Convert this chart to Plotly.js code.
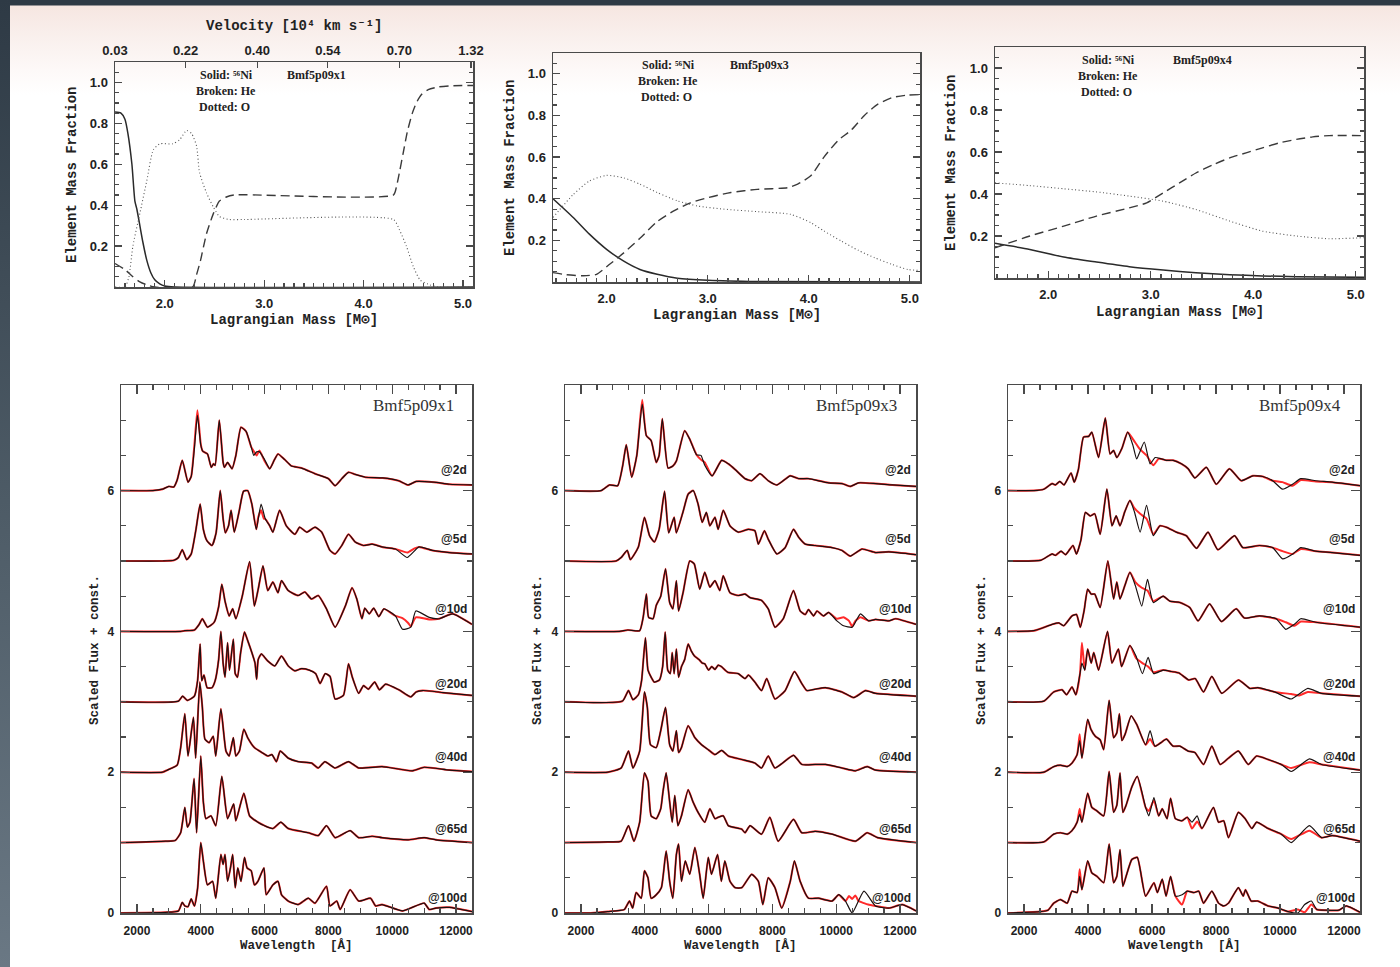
<!DOCTYPE html>
<html><head><meta charset="utf-8">
<script src="https://cdn.plot.ly/plotly-3.0.1.min.js"></script>
<style>
html,body{margin:0;padding:0;background:#fff;}
#wrap{position:relative;width:1400px;height:967px;overflow:hidden;
background:linear-gradient(to bottom,#2e3a45 0px,#2e3a45 5px,#f6e6e1 6px,#f9efec 35px,#fdf9f8 70px,#ffffff 95px);}
#band{position:absolute;left:0;top:0;width:10px;height:967px;background:linear-gradient(to bottom,#2e3a45,#4f5d68 55%,#6a7884);}
#chart{position:absolute;left:0;top:0;width:1400px;height:967px;}
</style></head>
<body><div id="wrap"><div id="band"></div><div id="chart"></div></div>
<script>
// ---------------- DATA: element mass fractions (top row) ----------------
const velocityTickText = ['0.03','0.22','0.40','0.54','0.70','1.32'];
const velocityTickMass = [1.5, 2.21, 2.93, 3.64, 4.36, 5.08];
const massTickVals = [2, 3, 4, 5];
const massTickText = ['2.0','3.0','4.0','5.0'];
const fracTickVals = [0.2, 0.4, 0.6, 0.8, 1.0];
const fracTickText = ['0.2','0.4','0.6','0.8','1.0'];
const waveTickVals = [2000, 4000, 6000, 8000, 10000, 12000];
const waveTickText = ['2000','4000','6000','8000','10000','12000'];
const fluxTickVals = [0, 2, 4, 6];

const ni_x1 = [[1.5,0.855],[1.56,0.85],[1.6,0.82],[1.63,0.75],[1.67,0.6],[1.7,0.42],[1.72,0.38],[1.75,0.3],[1.78,0.22],[1.82,0.13],[1.86,0.07],[1.9,0.035],[1.95,0.015],[2.0,0.005],[2.1,0],[5.1,0]];
const he_x1 = [[1.5,0.115],[1.6,0.085],[1.68,0.05],[1.75,0.025],[1.82,0.01],[1.9,0],[2.28,0],[2.32,0.06],[2.36,0.13],[2.42,0.26],[2.49,0.36],[2.55,0.42],[2.62,0.44],[2.7,0.45],[4.3,0.45],[4.33,0.49],[4.36,0.56],[4.4,0.66],[4.44,0.76],[4.49,0.85],[4.53,0.9],[4.58,0.94],[4.65,0.965],[4.75,0.978],[4.9,0.984],[5.1,0.985]];
const o_x1  = [[1.5,0],[1.6,0],[1.64,0.05],[1.68,0.2],[1.75,0.36],[1.82,0.52],[1.885,0.67],[1.95,0.7],[2.08,0.7],[2.15,0.72],[2.22,0.765],[2.27,0.75],[2.32,0.69],[2.35,0.56],[2.42,0.46],[2.49,0.39],[2.55,0.345],[2.65,0.33],[2.8,0.33],[4.3,0.33],[4.36,0.28],[4.43,0.2],[4.5,0.1],[4.57,0.033],[4.67,0.01],[4.75,0],[5.1,0]];

const ni_x3 = [[1.47,0.4],[1.67,0.31],[1.83,0.23],[2.0,0.157],[2.17,0.1],[2.33,0.06],[2.5,0.037],[2.7,0.018],[3.0,0.008],[3.5,0.002],[5.1,0]];
const he_x3 = [[1.47,0.045],[1.6,0.035],[1.77,0.03],[1.9,0.037],[2.03,0.085],[2.17,0.14],[2.33,0.21],[2.5,0.29],[2.66,0.34],[2.83,0.38],[3.0,0.405],[3.23,0.43],[3.49,0.445],[3.79,0.453],[3.89,0.47],[4.02,0.51],[4.15,0.6],[4.29,0.68],[4.42,0.73],[4.55,0.8],[4.68,0.853],[4.82,0.885],[4.98,0.898],[5.1,0.9]];
const o_x3  = [[1.47,0.31],[1.67,0.42],[1.83,0.485],[2.0,0.512],[2.17,0.5],[2.33,0.47],[2.5,0.43],[2.7,0.39],[2.9,0.365],[3.16,0.35],[3.49,0.338],[3.82,0.325],[4.02,0.285],[4.15,0.245],[4.32,0.197],[4.49,0.152],[4.65,0.117],[4.82,0.085],[4.98,0.06],[5.1,0.056]];

const ni_x4 = [[1.48,0.165],[1.82,0.136],[2.15,0.1],[2.47,0.076],[2.79,0.054],[3.12,0.038],[3.44,0.025],[3.77,0.016],[4.09,0.01],[4.42,0.006],[5.08,0.003]];
const he_x4 = [[1.48,0.144],[1.82,0.2],[2.15,0.247],[2.47,0.295],[2.79,0.334],[2.96,0.358],[3.12,0.405],[3.28,0.453],[3.44,0.5],[3.61,0.54],[3.77,0.572],[3.93,0.596],[4.09,0.62],[4.25,0.643],[4.42,0.66],[4.58,0.672],[4.74,0.678],[5.08,0.678]];
const o_x4  = [[1.48,0.453],[1.82,0.44],[2.15,0.425],[2.47,0.41],[2.79,0.39],[3.12,0.366],[3.44,0.326],[3.77,0.271],[4.09,0.223],[4.42,0.2],[4.74,0.187],[5.08,0.192]];

// ---------------- DATA: spectra (bottom row), [wavelength, scaled flux + const] ----------------
const models = ['Bmf5p09x1','Bmf5p09x3','Bmf5p09x4'];
const epochs = ['@2d','@5d','@10d','@20d','@40d','@65d','@100d'];

const x1_2d = [[1500,6.0],[2500,6.0],[2800,6.02],[3000,6.06],[3150,6.05],[3260,6.15],[3420,6.43],[3600,6.12],[3700,6.2],[3800,6.6],[3895,7.07],[4000,6.65],[4060,6.56],[4210,6.52],[4330,6.33],[4400,6.38],[4450,6.36],[4580,7.0],[4700,6.4],[4740,6.33],[4840,6.4],[4980,6.31],[5100,6.5],[5260,6.9],[5420,6.84],[5580,6.62],[5660,6.5],[5750,6.55],[5840,6.55],[6000,6.44],[6160,6.31],[6300,6.43],[6420,6.52],[6630,6.44],[6840,6.35],[7160,6.32],[7580,6.24],[8000,6.17],[8210,6.07],[8420,6.17],[8630,6.26],[8840,6.23],[9160,6.19],[9700,6.18],[10200,6.14],[10500,6.08],[10750,6.13],[11300,6.12],[11800,6.09],[12500,6.08]];
const x1_2d_red = [[[3800,6.65],[3895,7.14],[4000,6.66]],[[5580,6.62],[5660,6.56],[5750,6.5],[5840,6.57],[6000,6.42]]];
const x1_5d = [[1500,5.0],[2800,5.0],[3160,5.01],[3300,5.05],[3420,5.16],[3560,5.02],[3700,5.1],[3850,5.45],[3980,5.81],[4080,5.45],[4190,5.29],[4350,5.22],[4480,5.4],[4610,6.0],[4700,5.6],[4770,5.4],[4870,5.5],[4950,5.72],[5050,5.41],[5200,5.7],[5340,5.99],[5470,6.0],[5600,5.81],[5740,5.45],[5890,5.81],[6020,5.6],[6160,5.5],[6260,5.41],[6470,5.72],[6680,5.5],[6950,5.38],[7100,5.48],[7320,5.41],[7580,5.48],[7790,5.41],[8050,5.15],[8210,5.1],[8420,5.22],[8630,5.38],[8840,5.27],[9100,5.22],[9370,5.24],[9680,5.2],[10100,5.17],[10470,5.05],[10840,5.2],[11260,5.15],[11790,5.12],[12500,5.1]];
const x1_5d_red = [[[5800,5.62],[5890,5.72],[5980,5.6]],[[10250,5.15],[10470,5.12],[10700,5.18]]];
const x1_10d = [[1500,4.0],[3370,4.0],[3500,4.01],[3800,4.02],[3950,4.1],[4050,4.18],[4210,4.06],[4420,4.13],[4560,4.35],[4660,4.67],[4760,4.43],[4890,4.22],[5000,4.32],[5100,4.18],[5300,4.5],[5530,4.99],[5680,4.36],[5800,4.6],[5950,4.93],[6100,4.58],[6260,4.7],[6420,4.55],[6530,4.72],[6740,4.58],[7050,4.51],[7260,4.56],[7470,4.46],[7680,4.51],[7940,4.32],[8210,4.06],[8530,4.36],[8740,4.62],[8890,4.46],[9050,4.18],[9140,4.33],[9280,4.25],[9420,4.33],[9580,4.21],[9740,4.32],[10100,4.22],[10320,4.03],[10580,4.06],[10740,4.29],[11160,4.2],[11470,4.18],[11890,4.25],[12500,4.1]];
const x1_10d_red = [[[10100,4.22],[10320,4.19],[10500,4.12],[10580,4.07],[10740,4.2],[11160,4.17]]];
const x1_20d = [[1500,3.0],[3300,3.01],[3430,3.08],[3580,3.02],[3800,3.08],[3900,3.3],[3980,3.82],[4030,3.3],[4100,3.38],[4200,3.2],[4350,3.2],[4450,3.3],[4560,3.6],[4630,4.0],[4700,3.55],[4760,3.35],[4840,3.84],[4900,3.45],[5020,3.89],[5080,3.4],[5150,3.35],[5250,3.7],[5370,3.99],[5470,3.87],[5600,3.7],[5700,3.55],[5750,3.32],[5800,3.6],[5900,3.68],[6100,3.58],[6320,3.51],[6530,3.65],[6740,3.51],[6950,3.44],[7150,3.47],[7400,3.45],[7600,3.4],[7740,3.26],[7900,3.4],[8050,3.36],[8210,3.04],[8470,3.09],[8630,3.54],[8750,3.35],[8950,3.12],[9100,3.23],[9250,3.18],[9450,3.28],[9600,3.17],[9790,3.25],[10210,3.17],[10580,3.07],[10750,3.14],[10950,3.16],[11260,3.15],[11600,3.13],[12500,3.09]];
const x1_40d = [[1500,2.0],[2800,2.0],[2950,2.03],[3260,2.1],[3370,2.35],[3500,2.83],[3600,2.23],[3770,2.78],[3840,2.2],[3970,3.28],[4050,2.92],[4130,2.47],[4260,2.42],[4390,2.51],[4470,2.23],[4630,2.9],[4790,2.3],[4890,2.23],[5020,2.49],[5100,2.23],[5210,2.3],[5350,2.61],[5470,2.49],[5680,2.35],[5950,2.27],[6100,2.23],[6230,2.25],[6370,2.15],[6490,2.3],[6740,2.2],[7050,2.15],[7470,2.13],[7680,2.06],[7890,2.15],[8210,2.06],[8630,2.15],[8950,2.06],[9680,2.08],[10630,2.02],[11000,2.07],[11790,2.03],[12500,2.01]];
const x1_65d = [[1500,1.0],[2900,1.02],[3200,1.03],[3370,1.14],[3500,1.5],[3580,1.22],[3660,1.29],[3790,1.91],[3870,1.14],[4000,2.23],[4080,1.58],[4160,1.34],[4320,1.38],[4470,1.24],[4660,1.94],[4840,1.34],[5030,1.55],[5100,1.31],[5350,1.7],[5530,1.38],[5790,1.29],[6000,1.24],[6260,1.2],[6510,1.29],[6740,1.2],[7370,1.14],[7680,1.1],[7940,1.24],[8210,1.07],[8680,1.17],[8950,1.07],[9370,1.09],[9680,1.07],[10500,1.04],[11000,1.07],[11370,1.04],[12500,1.0]];
const x1_100d = [[1500,0.0],[2900,0.01],[3300,0.03],[3420,0.15],[3500,0.1],[3600,0.09],[3700,0.2],[3800,0.1],[3900,0.35],[4000,1.0],[4080,0.74],[4210,0.4],[4370,0.45],[4470,0.21],[4630,0.83],[4700,0.69],[4760,0.83],[4840,0.45],[4930,0.64],[5000,0.83],[5080,0.36],[5160,0.64],[5260,0.45],[5370,0.79],[5450,0.64],[5580,0.6],[5680,0.4],[5790,0.45],[5980,0.64],[6050,0.26],[6260,0.4],[6420,0.45],[6530,0.26],[6740,0.17],[7050,0.12],[7370,0.21],[7580,0.14],[7940,0.38],[8050,0.1],[8260,0.17],[8370,0.05],[8680,0.33],[8950,0.17],[9320,0.21],[9480,0.1],[9680,0.12],[10320,0.03],[11000,0.14],[11160,0.05],[11370,0.07],[11790,0.08],[12500,0.02]];

const x3_2d = [[1500,6.0],[2630,6.0],[2890,6.08],[3150,6.07],[3310,6.36],[3420,6.65],[3590,6.19],[3750,6.5],[3920,7.23],[4050,6.78],[4200,6.71],[4360,6.4],[4450,6.5],[4550,7.02],[4730,6.32],[4880,6.35],[4990,6.42],[5250,6.85],[5410,6.73],[5620,6.51],[5760,6.5],[5880,6.36],[6110,6.21],[6410,6.43],[6620,6.38],[6830,6.3],[7140,6.17],[7350,6.14],[7610,6.24],[7870,6.14],[8140,6.08],[8560,6.21],[8820,6.17],[9130,6.17],[9760,6.11],[10180,6.1],[10440,6.06],[10700,6.11],[11230,6.1],[11760,6.08],[12500,6.06]];
const x3_2d_red = [[[3750,6.5],[3920,7.29],[4050,6.78]],[[5620,6.51],[5760,6.44],[5880,6.4]]];
const x3_5d = [[1500,5.0],[3100,5.0],[3260,5.05],[3450,5.15],[3550,5.02],[3800,5.2],[3990,5.62],[4150,5.36],[4300,5.27],[4450,5.45],[4620,5.99],[4750,5.4],[4920,5.62],[4990,5.4],[5200,5.7],[5360,5.95],[5520,6.0],[5670,5.81],[5800,5.55],[5930,5.69],[6040,5.5],[6200,5.62],[6300,5.45],[6460,5.72],[6670,5.5],[6930,5.41],[7250,5.45],[7450,5.43],[7560,5.24],[7750,5.43],[7870,5.31],[8140,5.1],[8400,5.19],[8660,5.45],[8820,5.34],[9030,5.24],[9340,5.22],[9870,5.19],[10180,5.15],[10440,5.07],[10810,5.17],[11230,5.12],[11650,5.13],[12500,5.09]];
const x3_10d = [[1500,4.0],[3200,4.0],[3470,4.02],[3840,4.01],[3950,4.2],[4050,4.53],[4120,4.2],[4260,4.18],[4360,4.37],[4500,4.5],[4650,4.89],[4780,4.41],[4880,4.32],[4990,4.72],[5060,4.29],[5200,4.55],[5410,5.0],[5550,4.96],[5720,4.6],[5880,4.84],[6040,4.63],[6200,4.72],[6350,4.58],[6460,4.79],[6670,4.55],[6930,4.51],[7140,4.53],[7300,4.48],[7660,4.44],[7870,4.32],[8080,4.06],[8340,4.18],[8660,4.58],[8870,4.29],[9030,4.24],[9130,4.31],[9290,4.22],[9400,4.29],[9600,4.22],[9760,4.27],[10020,4.15],[10230,4.08],[10500,4.06],[10760,4.25],[11020,4.15],[11230,4.17],[11650,4.15],[11860,4.18],[12500,4.1]];
const x3_10d_red = [[[10020,4.18],[10230,4.2],[10400,4.15],[10500,4.07],[10600,4.15],[10760,4.2],[11020,4.15]]];
const x3_20d = [[1500,3.0],[3300,3.01],[3490,3.16],[3630,3.03],[3800,3.1],[3900,3.3],[4020,3.91],[4100,3.45],[4200,3.35],[4300,3.28],[4460,3.31],[4560,3.5],[4640,3.99],[4720,3.45],[4800,3.4],[4860,3.7],[4920,3.4],[4990,3.75],[5060,3.35],[5150,3.5],[5250,3.6],[5360,3.82],[5460,3.72],[5560,3.65],[5700,3.6],[5800,3.55],[5880,3.54],[6000,3.45],[6100,3.5],[6200,3.46],[6300,3.52],[6400,3.5],[6600,3.42],[6930,3.4],[7140,3.33],[7250,3.38],[7450,3.28],[7660,3.16],[7820,3.33],[8080,3.04],[8400,3.16],[8690,3.43],[8920,3.26],[9080,3.16],[9340,3.18],[9660,3.2],[10180,3.14],[10550,3.06],[10920,3.16],[11230,3.12],[12500,3.08]];
const x3_40d = [[1500,2.0],[2840,2.0],[3260,2.06],[3490,2.3],[3630,2.06],[3840,2.3],[3990,3.14],[4080,2.92],[4180,2.39],[4360,2.35],[4500,2.59],[4650,2.92],[4780,2.39],[4880,2.3],[4990,2.59],[5060,2.28],[5150,2.35],[5360,2.66],[5570,2.49],[5780,2.39],[5990,2.32],[6200,2.25],[6410,2.31],[6620,2.23],[7040,2.18],[7450,2.13],[7660,2.06],[7870,2.23],[8080,2.06],[8660,2.24],[8920,2.11],[9340,2.11],[9660,2.11],[10180,2.06],[10600,2.02],[10970,2.08],[11230,2.03],[12500,2.0]];
const x3_65d = [[1500,1.0],[2840,1.01],[3260,1.02],[3490,1.24],[3660,1.02],[3840,1.29],[3990,1.99],[4100,1.87],[4200,1.38],[4360,1.34],[4500,1.48],[4570,1.72],[4670,1.99],[4780,1.58],[4860,1.29],[4940,1.67],[5040,1.24],[5150,1.38],[5360,1.75],[5510,1.58],[5670,1.43],[5880,1.29],[6040,1.48],[6200,1.34],[6300,1.36],[6460,1.38],[6620,1.24],[7040,1.19],[7140,1.14],[7300,1.24],[7660,1.12],[7920,1.36],[8180,1.02],[8660,1.33],[8920,1.14],[9340,1.16],[9870,1.12],[10600,1.02],[10970,1.14],[11300,1.07],[12500,1.0]];
const x3_100d = [[1500,0.0],[2310,0.0],[2840,0.02],[3360,0.05],[3520,0.17],[3620,0.07],[3730,0.29],[3890,0.21],[3990,0.6],[4100,0.5],[4200,0.21],[4360,0.26],[4520,0.36],[4670,0.88],[4780,0.45],[4880,0.21],[4990,0.83],[5060,0.98],[5150,0.45],[5270,0.74],[5410,0.55],[5570,0.93],[5720,0.55],[5830,0.21],[5990,0.79],[6090,0.55],[6280,0.83],[6400,0.45],[6510,0.74],[6670,0.45],[6830,0.36],[7040,0.36],[7350,0.55],[7560,0.45],[7700,0.12],[7870,0.5],[8080,0.36],[8290,0.07],[8560,0.45],[8690,0.74],[8870,0.45],[9130,0.21],[9440,0.21],[9870,0.17],[10080,0.26],[10290,0.17],[10500,0.0],[10870,0.31],[11230,0.1],[11650,0.07],[12070,0.12],[12500,0.03]];
const x3_100d_red = [[[10290,0.17],[10400,0.24],[10500,0.2],[10600,0.25],[10700,0.17],[10870,0.14],[11000,0.12],[11230,0.1]]];

const x4_2d = [[1500,6.0],[2310,6.0],[2620,6.02],[2880,6.1],[2980,6.08],[3120,6.13],[3250,6.08],[3470,6.25],[3570,6.12],[3700,6.3],[3860,6.76],[4020,6.77],[4120,6.83],[4330,6.47],[4540,7.03],[4690,6.52],[4800,6.57],[4900,6.47],[5060,6.6],[5240,6.83],[5400,6.65],[5520,6.45],[5620,6.55],[5760,6.69],[5940,6.38],[6100,6.47],[6300,6.45],[6450,6.43],[6660,6.43],[6920,6.38],[7130,6.31],[7340,6.18],[7700,6.33],[8010,6.09],[8420,6.31],[8790,6.14],[9150,6.21],[9460,6.2],[9770,6.14],[10080,6.02],[10390,6.09],[10650,6.17],[11120,6.14],[11630,6.12],[12500,6.07]];
const x4_2d_red = [[[5240,6.83],[5420,6.72],[5620,6.59],[5830,6.5],[6040,6.36],[6200,6.45]],[[9770,6.14],[10080,6.12],[10390,6.07],[10650,6.15],[11120,6.13]]];
const x4_5d = [[1500,5.0],[2520,5.01],[2880,5.1],[2980,5.08],[3160,5.14],[3300,5.09],[3530,5.22],[3640,5.1],[3780,5.3],[3920,5.69],[4070,5.64],[4210,5.67],[4380,5.38],[4590,6.02],[4750,5.5],[4880,5.64],[5000,5.5],[5150,5.7],[5310,5.86],[5450,5.7],[5630,5.41],[5830,5.79],[6040,5.36],[6250,5.5],[6450,5.48],[6760,5.41],[7070,5.36],[7390,5.18],[7750,5.41],[8060,5.16],[8580,5.36],[8840,5.19],[9360,5.22],[9770,5.19],[10080,5.03],[10400,5.1],[10650,5.19],[11120,5.14],[11630,5.12],[12500,5.08]];
const x4_5d_red = [[[5310,5.86],[5450,5.75],[5630,5.67],[5830,5.6],[6040,5.38],[6250,5.5]],[[9770,5.19],[10080,5.14],[10390,5.1],[10650,5.17],[11120,5.14]]];
const x4_10d = [[1500,4.0],[2310,4.01],[2880,4.1],[3090,4.12],[3240,4.08],[3500,4.22],[3640,4.24],[3760,4.06],[3880,4.3],[3990,4.6],[4100,4.53],[4210,4.53],[4380,4.34],[4620,5.0],[4800,4.46],[4900,4.7],[5000,4.46],[5150,4.65],[5310,4.84],[5480,4.65],[5680,4.36],[5860,4.74],[6040,4.41],[6350,4.5],[6560,4.43],[6870,4.41],[7180,4.34],[7440,4.15],[7800,4.39],[8170,4.14],[8630,4.32],[8890,4.19],[9360,4.22],[9880,4.18],[10180,4.03],[10450,4.1],[10650,4.18],[11120,4.13],[12500,4.06]];
const x4_10d_red = [[[5310,4.84],[5480,4.7],[5680,4.62],[5860,4.58],[6040,4.43],[6350,4.5]],[[9880,4.18],[10180,4.13],[10450,4.08],[10650,4.14],[11120,4.13]]];
const x4_20d = [[1500,3.0],[2620,3.01],[2930,3.14],[3190,3.17],[3330,3.1],[3500,3.21],[3620,3.1],[3750,3.4],[3810,3.55],[3900,3.45],[3990,3.75],[4100,3.55],[4180,3.7],[4330,3.45],[4610,4.0],[4750,3.55],[4950,3.75],[5050,3.5],[5310,3.8],[5500,3.65],[5700,3.4],[5880,3.63],[6050,3.4],[6350,3.45],[6600,3.43],[6840,3.41],[7150,3.31],[7350,3.33],[7610,3.14],[7870,3.36],[8180,3.12],[8700,3.31],[9060,3.19],[9310,3.2],[9830,3.14],[10350,3.04],[10870,3.19],[11290,3.12],[12500,3.08]];
const x4_20d_red = [[[3750,3.4],[3810,3.84],[3900,3.45]],[[5310,3.8],[5500,3.62],[5700,3.55],[5880,3.5],[6050,3.42],[6350,3.45]],[[9830,3.14],[10350,3.11],[10600,3.09],[10870,3.14],[11290,3.12]]];
const x4_40d = [[1500,2.0],[2620,2.0],[2930,2.08],[3140,2.1],[3350,2.08],[3500,2.13],[3660,2.25],[3740,2.45],[3810,2.2],[3990,2.75],[4090,2.61],[4230,2.51],[4380,2.46],[4490,2.32],[4660,3.02],[4800,2.49],[4900,2.56],[4980,2.83],[5060,2.45],[5160,2.54],[5350,2.8],[5520,2.68],[5800,2.39],[5940,2.59],[6090,2.37],[6280,2.42],[6450,2.47],[6660,2.37],[6870,2.37],[7130,2.3],[7340,2.28],[7610,2.11],[7870,2.37],[8130,2.11],[8390,2.2],[8700,2.3],[9010,2.11],[9270,2.23],[9630,2.18],[10040,2.11],[10350,2.01],[10920,2.19],[11300,2.11],[12500,2.03]];
const x4_40d_red = [[[3660,2.25],[3740,2.54],[3810,2.2]],[[5800,2.39],[5940,2.47],[6090,2.37]],[[10040,2.11],[10350,2.06],[10920,2.14],[11300,2.11]]];
const x4_65d = [[1500,1.0],[2620,1.01],[2930,1.12],[3140,1.14],[3350,1.12],[3500,1.17],[3660,1.29],[3740,1.4],[3810,1.29],[3990,1.7],[4120,1.5],[4280,1.45],[4490,1.38],[4660,2.01],[4800,1.43],[4900,1.53],[5000,1.99],[5090,1.43],[5190,1.53],[5370,1.79],[5540,1.94],[5800,1.5],[5900,1.38],[6060,1.64],[6210,1.38],[6320,1.48],[6470,1.34],[6580,1.63],[6730,1.34],[6940,1.31],[7100,1.36],[7250,1.29],[7410,1.38],[7560,1.2],[7920,1.5],[8080,1.29],[8240,1.31],[8390,1.07],[8700,1.43],[8910,1.34],[9120,1.2],[9270,1.29],[9630,1.2],[10040,1.12],[10350,1.0],[10920,1.24],[11300,1.07],[11630,1.1],[12500,1.02]];
const x4_65d_red = [[[3660,1.29],[3740,1.48],[3810,1.29]],[[5800,1.5],[5900,1.45],[6060,1.6]],[[7100,1.36],[7250,1.2],[7410,1.3]],[[10040,1.12],[10350,1.05],[10920,1.17],[11300,1.07]]];
const x4_100d = [[1500,0.0],[2520,0.02],[2750,0.04],[2930,0.14],[3140,0.19],[3350,0.14],[3500,0.31],[3660,0.29],[3740,0.52],[3810,0.33],[3990,0.74],[4120,0.57],[4280,0.52],[4490,0.43],[4660,0.98],[4800,0.43],[4900,0.52],[5000,0.9],[5090,0.38],[5190,0.52],[5370,0.76],[5540,0.79],[5800,0.24],[6060,0.43],[6170,0.29],[6320,0.48],[6440,0.24],[6580,0.52],[6730,0.24],[6940,0.26],[7100,0.31],[7310,0.29],[7460,0.31],[7610,0.14],[7870,0.31],[8080,0.14],[8240,0.1],[8390,0.14],[8700,0.36],[8850,0.24],[8920,0.33],[9100,0.17],[9300,0.17],[9630,0.1],[9940,0.07],[10250,0.02],[10560,0.0],[10770,0.12],[10980,0.17],[11150,0.05],[11430,0.04],[11840,0.04],[12070,0.1],[12500,0.01]];
const x4_100d_red = [[[3660,0.29],[3740,0.62],[3810,0.33]],[[6730,0.24],[6940,0.12],[7100,0.31]],[[10250,0.02],[10560,0.05],[10770,0.01],[10980,0.12],[11150,0.05]]];

// ---------------- BUILD ----------------
const W = 1400, H = 967;
const px = p => p / W, py = p => 1 - p / H;
const xs = a => a.map(p => p[0]), ys = a => a.map(p => p[1]);

function mergeRed(black, segs) {
  if (!segs || !segs.length) return black;
  const keep = black.filter(p => !segs.some(s => p[0] >= s[0][0] && p[0] <= s[s.length-1][0]));
  return keep.concat(...segs).sort((a,b) => a[0]-b[0]);
}

const traces = [];
function comp(data, xa, ya, kind) {
  const st = {
    ni: {color:'#2a2a2a', width:1.5, dash:'solid'},
    he: {color:'#3a3a3a', width:1.4, dash:'9px,5px'},
    o:  {color:'#555555', width:1.1, dash:'1px,2.5px'}
  }[kind];
  traces.push({x: xs(data), y: ys(data), xaxis: xa, yaxis: ya, mode:'lines',
    line: Object.assign({shape:'spline', smoothing:0.6}, st), hoverinfo:'skip'});
}
comp(ni_x1,'x','y','ni'); comp(he_x1,'x','y','he'); comp(o_x1,'x','y','o');
comp(ni_x3,'x2','y2','ni'); comp(he_x3,'x2','y2','he'); comp(o_x3,'x2','y2','o');
comp(ni_x4,'x3','y3','ni'); comp(he_x4,'x3','y3','he'); comp(o_x4,'x3','y3','o');
// invisible carrier so the top velocity axis of the first panel is drawn
traces.push({x: velocityTickMass, y: velocityTickMass.map(() => null), xaxis:'x7', yaxis:'y', mode:'markers', marker:{opacity:0}, hoverinfo:'skip'});

const specPanels = [
  {xa:'x4', ya:'y4', black:[x1_2d,x1_5d,x1_10d,x1_20d,x1_40d,x1_65d,x1_100d], red:[x1_2d_red,x1_5d_red,x1_10d_red,[],[],[],[]]},
  {xa:'x5', ya:'y5', black:[x3_2d,x3_5d,x3_10d,x3_20d,x3_40d,x3_65d,x3_100d], red:[x3_2d_red,[],x3_10d_red,[],[],[],x3_100d_red]},
  {xa:'x6', ya:'y6', black:[x4_2d,x4_5d,x4_10d,x4_20d,x4_40d,x4_65d,x4_100d], red:[x4_2d_red,x4_5d_red,x4_10d_red,x4_20d_red,x4_40d_red,x4_65d_red,x4_100d_red]}
];
specPanels.forEach(P => {
  P.black.forEach((b, i) => {
    const r = mergeRed(b, P.red[i]);
    traces.push({x: xs(r), y: ys(r), xaxis:P.xa, yaxis:P.ya, mode:'lines',
      line:{color:'#ff2a2a', width:2.0, shape:'spline', smoothing:0.5}, hoverinfo:'skip'});
  });
  P.black.forEach(b => {
    traces.push({x: xs(b), y: ys(b), xaxis:P.xa, yaxis:P.ya, mode:'lines',
      line:{color:'#1a1010', width:1.2, shape:'spline', smoothing:0.5}, hoverinfo:'skip'});
  });
});

const AX = '#4a4a4a';
const tickFontTop = {family:'Liberation Sans, Arial, sans-serif', size:13, color:'#222', weight:'bold'};
const tickFontBot = {family:'Liberation Sans, Arial, sans-serif', size:12, color:'#222', weight:'bold'};
function xTop(d0, d1, anchor, range) {
  return {domain:[px(d0),px(d1)], anchor, range, tickmode:'array', tickvals:massTickVals, ticktext:massTickText,
    ticks:'inside', ticklen:7, tickwidth:1.2, tickcolor:AX, showline:true, linecolor:AX, linewidth:1.5, mirror:true,
    showgrid:false, zeroline:false, tickfont:tickFontTop, ticklabelstandoff:4,
    minor:{dtick:0.1, tick0:0, ticks:'inside', ticklen:4, tickcolor:AX, showgrid:false}};
}
function yTop(top, bot, anchor) {
  return {domain:[py(bot),py(top)], anchor, range:[0,1.1], tickmode:'array', tickvals:fracTickVals, ticktext:fracTickText,
    ticks:'inside', ticklen:7, tickwidth:1.2, tickcolor:AX, showline:true, linecolor:AX, linewidth:1.5, mirror:'ticks',
    showgrid:false, zeroline:false, tickfont:tickFontTop, ticklabelstandoff:3,
    minor:{dtick:0.05, tick0:0, ticks:'inside', ticklen:4, tickcolor:AX, showgrid:false}};
}
function xBot(d0, d1, anchor) {
  return {domain:[px(d0),px(d1)], anchor, range:[1500,12500], tickmode:'array', tickvals:waveTickVals, ticktext:waveTickText,
    ticks:'inside', ticklen:9, tickwidth:1.2, tickcolor:AX, showline:true, linecolor:AX, linewidth:1.5, mirror:'ticks',
    showgrid:false, zeroline:false, tickfont:tickFontBot, ticklabelstandoff:6,
    minor:{dtick:500, tick0:0, ticks:'inside', ticklen:5, tickcolor:AX, showgrid:false}};
}
function yBot(anchor) {
  return {domain:[py(913),py(385)], anchor, range:[0,7.5], tickmode:'array', tickvals:fluxTickVals, ticktext:fluxTickVals.map(String),
    ticks:'inside', ticklen:9, tickwidth:1.2, tickcolor:AX, showline:true, linecolor:AX, linewidth:1.5, mirror:'ticks',
    showgrid:false, zeroline:false, tickfont:tickFontBot, ticklabelstandoff:3,
    minor:{dtick:0.5, tick0:0, ticks:'inside', ticklen:5, tickcolor:AX, showgrid:false}};
}

const layout = {
  width:W, height:H, margin:{l:0,r:0,t:0,b:0}, showlegend:false,
  paper_bgcolor:'rgba(0,0,0,0)', plot_bgcolor:'rgba(0,0,0,0)',
  xaxis: xTop(115,473,'y',[1.5,5.1]),
  yaxis: yTop(62,287,'x'),
  xaxis2: xTop(553,920,'y2',[1.47,5.1]),
  yaxis2: yTop(53,282,'x2'),
  xaxis3: xTop(995,1364,'y3',[1.48,5.08]),
  yaxis3: yTop(47,278,'x3'),
  xaxis4: xBot(121,472,'y4'), yaxis4: yBot('x4'),
  xaxis5: xBot(565,916,'y5'), yaxis5: yBot('x5'),
  xaxis6: xBot(1008,1360,'y6'), yaxis6: yBot('x6'),
  xaxis7: {overlaying:'x', anchor:'y', side:'top', range:[1.5,5.1], tickmode:'array', tickvals:velocityTickMass, ticktext:velocityTickText,
    ticks:'inside', ticklen:6, tickwidth:1.2, tickcolor:AX, showline:false, showgrid:false, zeroline:false, showticklabels:true,
    tickfont:tickFontTop, ticklabelstandoff:3},
  annotations: []
};

const A = layout.annotations;
function txt(text, x, y, font, extra) {
  A.push(Object.assign({text, x:px(x), y:py(y), xref:'paper', yref:'paper', showarrow:false, xanchor:'center', yanchor:'middle', font}, extra||{}));
}
const monoTitle = {family:'Liberation Mono, DejaVu Sans Mono, monospace', size:14, color:'#222', weight:'bold'};
const monoSmall = {family:'Liberation Mono, DejaVu Sans Mono, monospace', size:12.5, color:'#222', weight:'bold'};
const legFont = {family:'Liberation Serif, DejaVu Serif, serif', size:12, color:'#222', weight:'bold'};

txt('Velocity [10⁴ km s⁻¹]', 294, 26, monoTitle);
const topPanels = [
  {cx:294, my:75, lx:226, mx:316, yt:72, ytc:175, xt:320, name:models[0]},
  {cx:737, my:65, lx:668, mx:760, yt:510, ytc:168, xt:315, name:models[1]},
  {cx:1180, my:60, lx:1108, mx:1202, yt:951, ytc:163, xt:312, name:models[2]}
];
topPanels.forEach(t => {
  txt('Solid: ⁵⁶Ni', t.lx, t.my, legFont);
  txt('Broken: He', t.lx, t.my+16, legFont);
  txt('Dotted: O', t.lx-2, t.my+32, legFont);
  txt(t.name, t.mx, t.my, legFont);
  txt('Element Mass Fraction', t.yt, t.ytc, monoTitle, {textangle:-90});
  txt('Lagrangian Mass [M⊙]', t.cx, t.xt, monoTitle);
});

const botPanels = [{cx:296, yt:95, nx:413, xa:'x4', ya:'y4'}, {cx:740, yt:538, nx:857, xa:'x5', ya:'y5'}, {cx:1184, yt:982, nx:1300, xa:'x6', ya:'y6'}];
const epochLabelY = [6.29, 5.31, 4.32, 3.26, 2.21, 1.2, 0.21];
botPanels.forEach((b, k) => {
  txt('Scaled Flux + const.', b.yt, 650, monoSmall, {textangle:-90});
  txt('Wavelength  [Å]', b.cx, 945, monoSmall);
  txt(models[k], b.nx, 405, {family:'Liberation Serif, DejaVu Serif, serif', size:17, color:'#333'});
  epochs.forEach((e, i) => {
    A.push({text:e, x:12420, y:epochLabelY[i], xref:b.xa, yref:b.ya, showarrow:false, xanchor:'right', yanchor:'middle',
      font:{family:'Liberation Sans, Arial, sans-serif', size:12, color:'#222', weight:'bold'}});
  });
});

Plotly.newPlot('chart', traces, layout, {staticPlot:true, displayModeBar:false});
</script></body></html>
